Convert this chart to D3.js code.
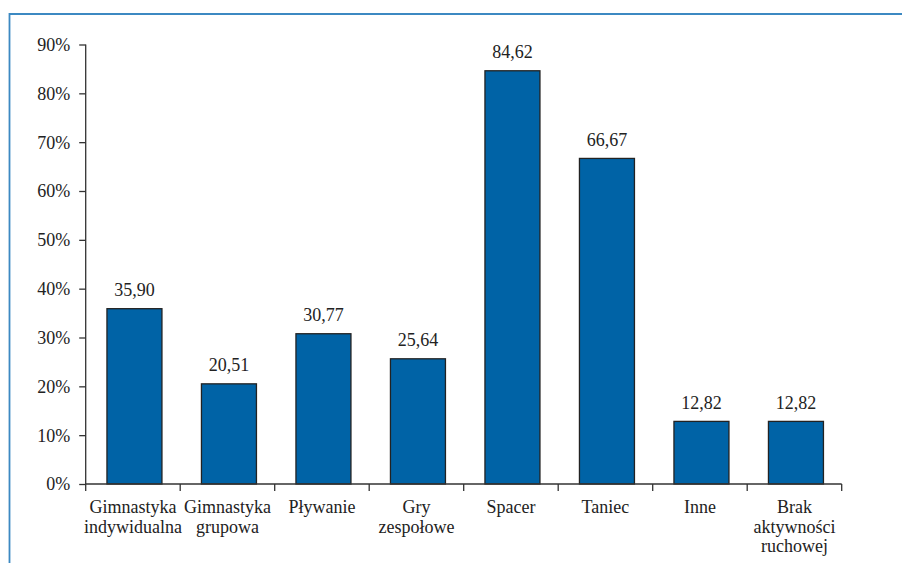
<!DOCTYPE html>
<html>
<head>
<meta charset="utf-8">
<script src="https://cdn.jsdelivr.net/npm/d3@7"></script>
<style>
  html, body { margin: 0; padding: 0; background: #fff; }
  svg { display: block; }
</style>
</head>
<body>
<script>
// Physical activity forms (percent of respondents)
const categories = [
  ["Gimnastyka", "indywidualna"],
  ["Gimnastyka", "grupowa"],
  ["Pływanie"],
  ["Gry", "zespołowe"],
  ["Spacer"],
  ["Taniec"],
  ["Inne"],
  ["Brak", "aktywności", "ruchowej"]
];
const values = [35.90, 20.51, 30.77, 25.64, 84.62, 66.67, 12.82, 12.82];
const yTicks = [0, 10, 20, 30, 40, 50, 60, 70, 80, 90];

const W = 902, H = 563;
const FONT = '"Liberation Serif", serif';
const svg = d3.select("body").append("svg").attr("width", W).attr("height", H);

// blue frame along the top and left edges
svg.append("path")
  .attr("d", `M9.5,${H} L9.5,14 L${W},14`)
  .attr("fill", "none")
  .attr("stroke", "#3c89c2")
  .attr("stroke-width", 1.8);

const plotL = 85.7, plotR = 841.7, plotT = 44.5, plotB = 484;
const keys = categories.map((c, i) => i);

const x = d3.scaleBand().domain(keys).range([plotL, plotR]).paddingInner(0).paddingOuter(0);
const y = d3.scaleLinear().domain([0, 90]).range([plotB, plotT]);

const barW = 55;
const fmt = v => d3.format(".2f")(v).replace(".", ",");

// bars
svg.append("g").selectAll("rect")
  .data(values)
  .join("rect")
  .attr("x", (d, i) => x(i) + x.bandwidth() / 2 - barW / 2 + 1.5)
  .attr("y", d => y(d))
  .attr("width", barW)
  .attr("height", d => y(0) - y(d))
  .attr("fill", "#0063a6")
  .attr("stroke", "#222")
  .attr("stroke-width", 1.3);

// value labels
svg.append("g").selectAll("text")
  .data(values)
  .join("text")
  .attr("x", (d, i) => x(i) + x.bandwidth() / 2 + 1.5)
  .attr("y", d => y(d) - 12.5)
  .attr("text-anchor", "middle")
  .style("font-family", FONT)
  .style("font-size", "18px")
  .style("fill", "#222")
  .text(d => fmt(d));

// y axis
const yAxis = d3.axisLeft(y).tickValues(yTicks).tickFormat(d => d + "%").tickSize(6.5).tickPadding(9);
const gy = svg.append("g").attr("transform", `translate(${plotL},0)`).call(yAxis);
gy.select(".domain").attr("d", `M-0,${plotT}V${plotB}`).attr("stroke", "#333").attr("stroke-width", 1.3);
gy.selectAll(".tick line").attr("stroke", "#333").attr("stroke-width", 1.3);
gy.selectAll(".tick text")
  .style("font-family", FONT)
  .style("font-size", "18px")
  .style("fill", "#222")
  .attr("dy", "0.33em");

// x axis: line with ticks at the category boundaries
const gx = svg.append("g");
gx.append("line")
  .attr("x1", plotL).attr("x2", plotR)
  .attr("y1", plotB).attr("y2", plotB)
  .attr("stroke", "#333").attr("stroke-width", 1.3);
const bounds = keys.map(k => x(k)).concat([x(keys[keys.length - 1]) + x.bandwidth()]);
gx.selectAll("line.tk")
  .data(bounds)
  .join("line")
  .attr("class", "tk")
  .attr("x1", d => d).attr("x2", d => d)
  .attr("y1", plotB).attr("y2", plotB + 7)
  .attr("stroke", "#333").attr("stroke-width", 1.3);

// category labels (multi-line)
const lab = gx.selectAll("text.cat")
  .data(categories)
  .join("text")
  .attr("class", "cat")
  .attr("text-anchor", "middle")
  .style("font-family", FONT)
  .style("font-size", "18px")
  .style("fill", "#222")
  .attr("x", (d, i) => x(i) + x.bandwidth() / 2)
  .attr("y", 513);
lab.selectAll("tspan")
  .data(d => d)
  .join("tspan")
  .attr("x", function () { return d3.select(this.parentNode).attr("x"); })
  .attr("dy", (d, j) => j === 0 ? 0 : 19.5)
  .text(d => d);
</script>
</body>
</html>
